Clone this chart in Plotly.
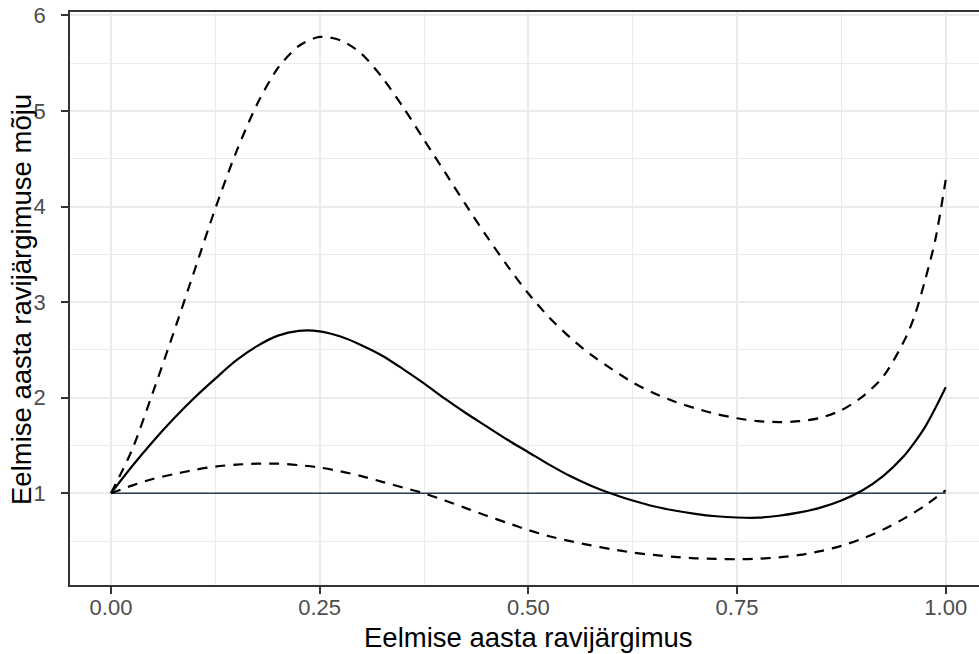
import plotly.graph_objects as go

# ---- data ----
x_vals = [0.0, 0.025, 0.05, 0.075, 0.1, 0.125, 0.15, 0.175, 0.2, 0.225,
          0.25, 0.275, 0.3, 0.325, 0.35, 0.375, 0.4, 0.425, 0.45, 0.475,
          0.5, 0.525, 0.55, 0.575, 0.6, 0.625, 0.65, 0.675, 0.7, 0.725,
          0.75, 0.775, 0.8, 0.825, 0.85, 0.875, 0.9, 0.925, 0.95, 0.9625,
          0.975, 0.9875, 1.0]

estimate = [1.0, 1.28, 1.54, 1.78, 2.0, 2.2, 2.39, 2.54, 2.65, 2.70,
            2.695, 2.64, 2.55, 2.44, 2.30, 2.15, 1.99, 1.84, 1.70, 1.56,
            1.43, 1.30, 1.18, 1.08, 0.995, 0.925, 0.865, 0.82, 0.785, 0.76,
            0.747, 0.745, 0.765, 0.80, 0.85, 0.925, 1.03, 1.18, 1.39, 1.53,
            1.69, 1.89, 2.11]

upper = [1.0, 1.45, 2.05, 2.68, 3.33, 3.98, 4.57, 5.07, 5.45, 5.68,
         5.775, 5.74, 5.60, 5.35, 5.04, 4.70, 4.36, 4.02, 3.69, 3.38,
         3.09, 2.84, 2.63, 2.45, 2.30, 2.16, 2.05, 1.96, 1.89, 1.83,
         1.785, 1.755, 1.745, 1.755, 1.79, 1.87, 2.01, 2.22, 2.59, 2.85,
         3.22, 3.65, 4.28]

lower = [1.0, 1.08, 1.15, 1.2, 1.245, 1.28, 1.3, 1.31, 1.31, 1.295,
         1.27, 1.23, 1.18, 1.12, 1.06, 1.0, 0.925, 0.845, 0.765, 0.69,
         0.615, 0.55, 0.50, 0.455, 0.415, 0.38, 0.355, 0.335, 0.32, 0.313,
         0.31, 0.315, 0.33, 0.355, 0.395, 0.45, 0.525, 0.62, 0.735, 0.80,
         0.87, 0.95, 1.03]

ref_level = 1.0

x_ticks = [0.0, 0.25, 0.5, 0.75, 1.0]
x_ticktext = ["0.00", "0.25", "0.50", "0.75", "1.00"]
x_minor = [0.125, 0.375, 0.625, 0.875]
y_ticks = [1, 2, 3, 4, 5, 6]
y_ticktext = ["1", "2", "3", "4", "5", "6"]
y_minor = [0.5, 1.5, 2.5, 3.5, 4.5, 5.5]

x_title = "Eelmise aasta ravijärgimus"
y_title = "Eelmise aasta ravijärgimuse mõju"

# ---- figure ----
FONT = "Liberation Sans, Arial, sans-serif"
GRID = "#EBEBEB"
AXIS = "#333333"

fig = go.Figure()

fig.add_trace(go.Scatter(
    x=[x_vals[0], x_vals[-1]], y=[ref_level, ref_level], mode="lines",
    line=dict(color="#2C3E50", width=1.5), hoverinfo="skip", showlegend=False,
))
for series, dash in ((upper, "10px,8px"), (lower, "10px,8px"), (estimate, "solid")):
    fig.add_trace(go.Scatter(
        x=x_vals, y=series, mode="lines",
        line=dict(color="black", width=2.2, dash=dash, shape="spline", smoothing=0.8),
        showlegend=False,
    ))

fig.update_layout(
    width=979, height=654,
    margin=dict(l=70, r=0, t=12, b=69, pad=0),
    paper_bgcolor="white", plot_bgcolor="white",
    font=dict(family=FONT, color="black"),
    showlegend=False,
    annotations=[
        dict(text=x_title, xref="paper", yref="paper", x=0.5 + (528.5 - 524.5) / 909, y=-(637 - 585) / 573,
             xanchor="center", yanchor="middle", showarrow=False,
             font=dict(family=FONT, size=27.5, color="black")),
        dict(text=y_title, xref="paper", yref="paper", x=-(70 - 21) / 909, y=1 - (300 - 12) / 573,
             xanchor="center", yanchor="middle", textangle=-90, showarrow=False,
             font=dict(family=FONT, size=27.5, color="black")),
    ],
)

fig.update_xaxes(
    range=[-0.0491, 1.0399], automargin=False,
    tickvals=x_ticks, ticktext=x_ticktext,
    showgrid=True, gridcolor=GRID, gridwidth=1.8,
    minor=dict(tickvals=x_minor, showgrid=True, gridcolor=GRID, gridwidth=0.9, ticks=""),
    zeroline=False,
    showline=True, linecolor=AXIS, linewidth=1.5, mirror=True,
    ticks="outside", ticklen=7, tickwidth=1.5, tickcolor=AXIS,
    tickfont=dict(family=FONT, size=22, color="#4D4D4D"),
    ticklabelstandoff=-5,
)
fig.update_yaxes(
    range=[0.0406, 6.036], automargin=False,
    tickvals=y_ticks, ticktext=y_ticktext,
    showgrid=True, gridcolor=GRID, gridwidth=1.8,
    minor=dict(tickvals=y_minor, showgrid=True, gridcolor=GRID, gridwidth=0.9, ticks=""),
    zeroline=False,
    showline=True, linecolor=AXIS, linewidth=1.5, mirror=False,
    ticks="outside", ticklen=7, tickwidth=1.5, tickcolor=AXIS,
    tickfont=dict(family=FONT, size=22, color="#4D4D4D"),
    ticklabelstandoff=11,
)

fig.write_html("out.html", config={"displayModeBar": False},
               post_script="document.body.style.margin='0px';document.body.style.overflow='hidden';")
